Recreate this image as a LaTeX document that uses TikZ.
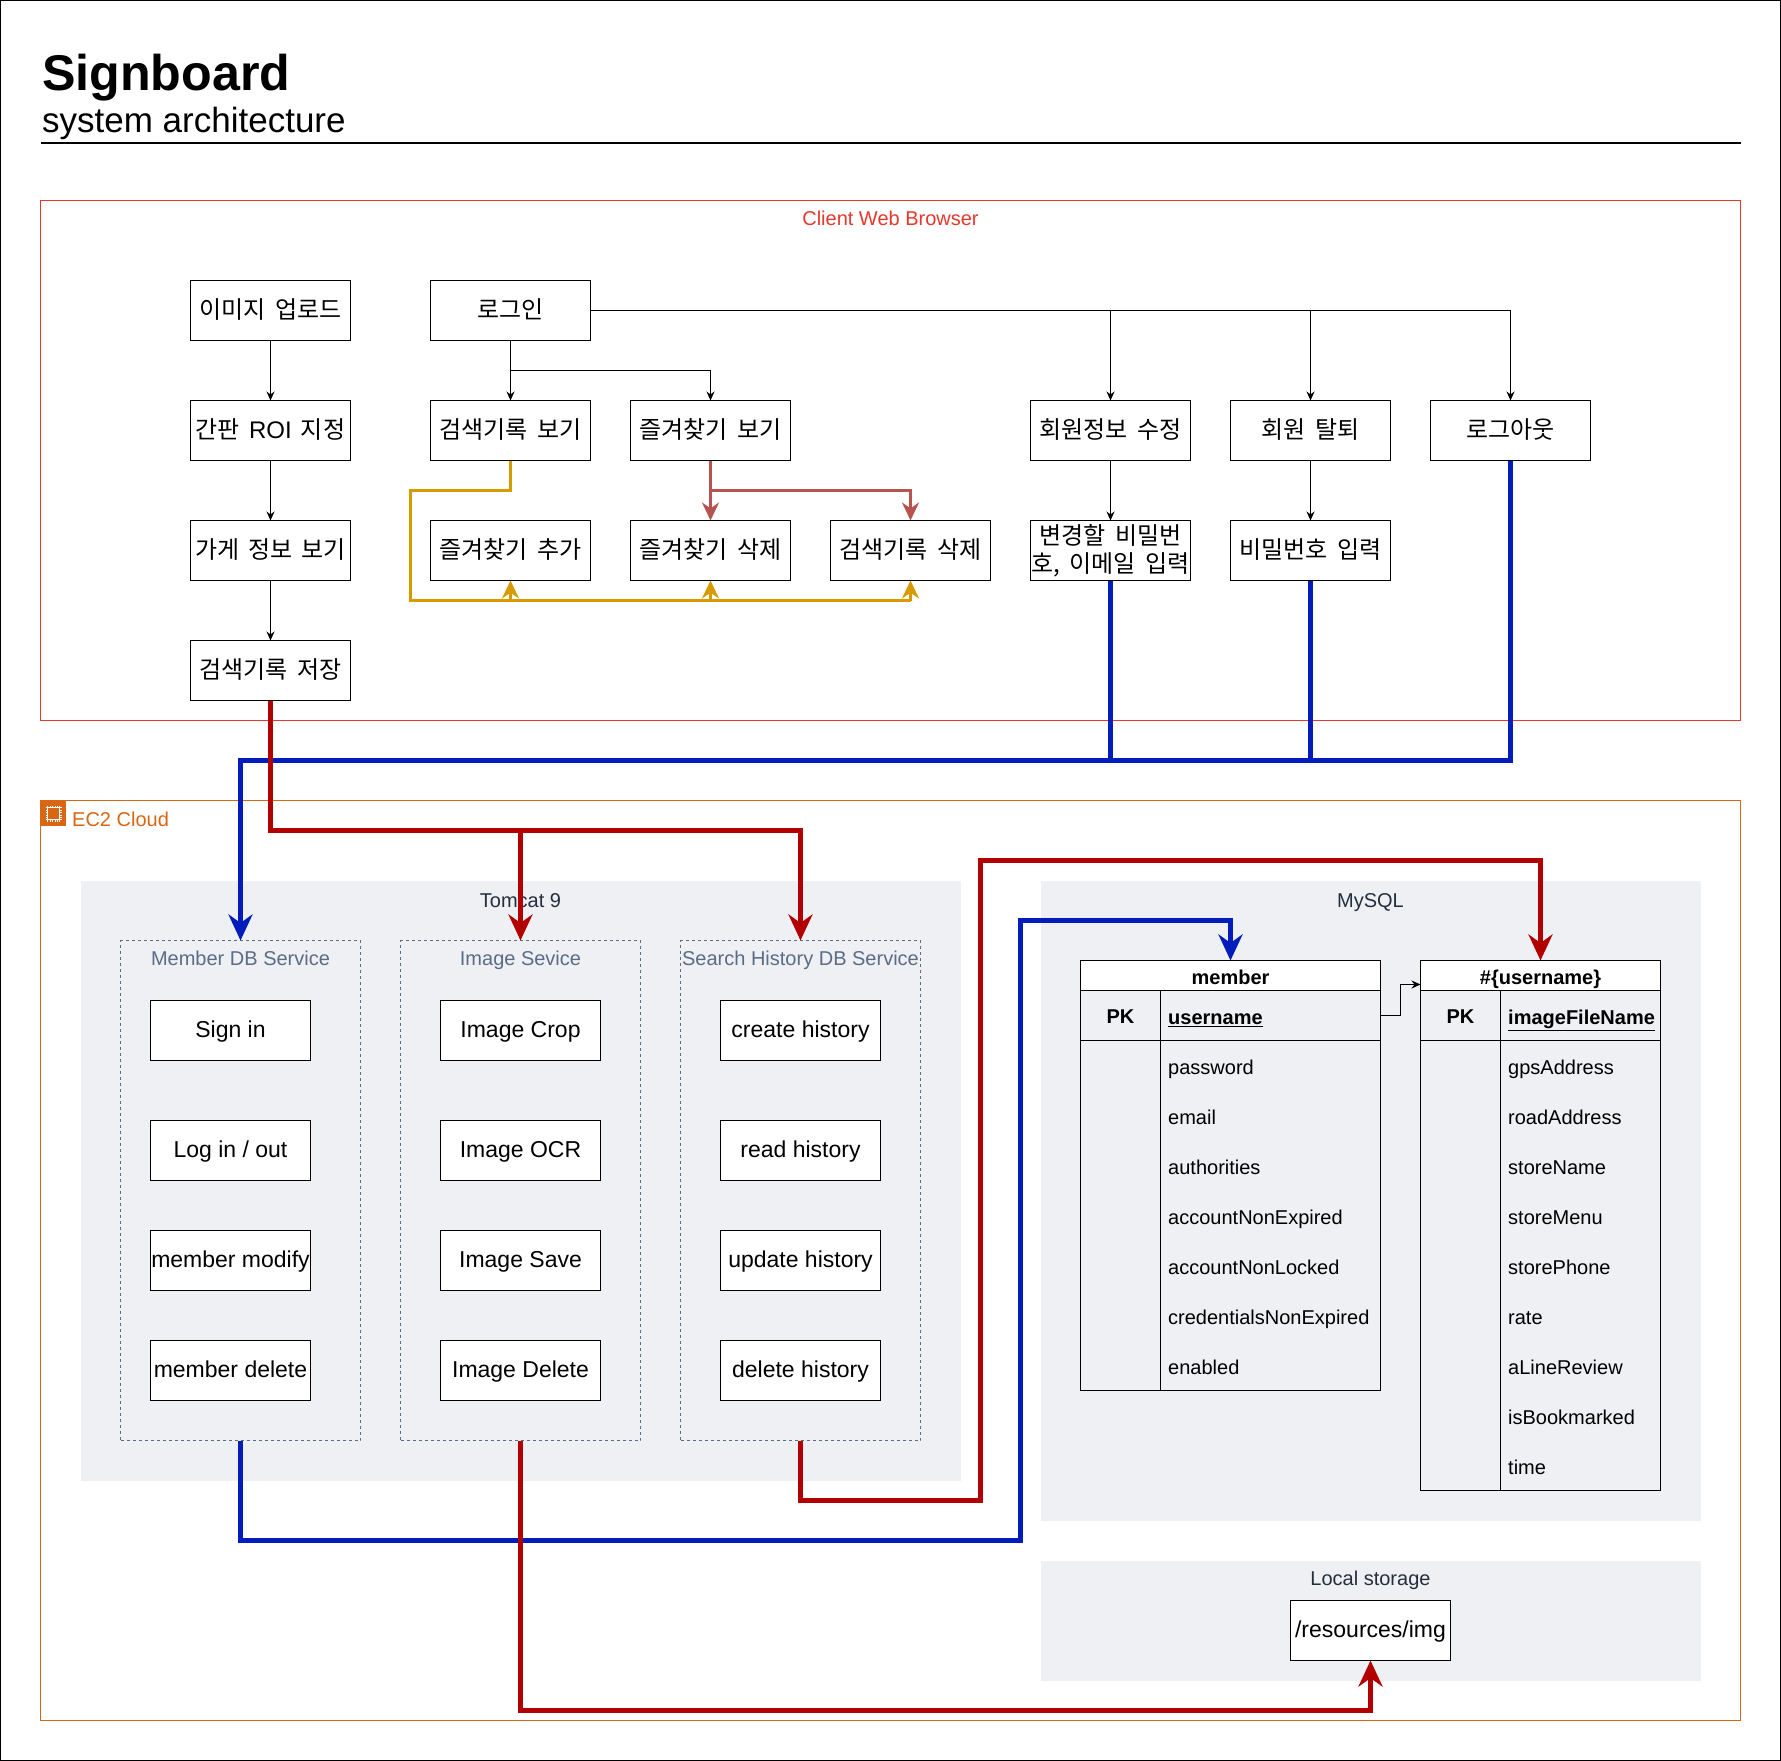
\documentclass[tikz,border=0pt]{standalone}
\usepackage{fontspec}
\setmainfont{Liberation Sans}
\newfontfamily\kr[WordSpace=1.7]{Noto Sans CJK KR}
\usetikzlibrary{arrows.meta}

\definecolor{clientRed}{HTML}{E5382B}
\definecolor{cloudOrange}{HTML}{D86613}
\definecolor{regionGray}{HTML}{EFF0F3}
\definecolor{slateText}{HTML}{5A6C86}
\definecolor{darkText}{HTML}{232F3E}
\definecolor{lineBlue}{HTML}{001DBC}
\definecolor{lineRed}{HTML}{B20000}
\definecolor{lineGold}{HTML}{D79B00}
\definecolor{lineBrown}{HTML}{B85450}

\tikzset{
  boxbase/.style={draw=black, fill=white, line width=1.2pt, minimum width=160pt, minimum height=60pt,
              inner sep=0pt, outer sep=0pt, align=center, text=black},
  box/.style={boxbase, font=\fontsize{23}{27}\selectfont, text height=19pt, text depth=5pt},
  krbox/.style={boxbase, font=\kr\fontsize{24}{28}\selectfont, text height=21pt, text depth=5pt},
  krwrap/.style={boxbase, font=\kr\fontsize{24}{27.5}\selectfont},
  region/.style={fill=regionGray, inner sep=0pt, outer sep=0pt},
  group/.style={draw=slateText, line width=1pt, dash pattern=on 3pt off 3pt, minimum width=240pt,
                minimum height=500pt, inner sep=0pt, outer sep=0pt},
  lbl/.style={inner sep=0pt, font=\fontsize{20}{24}\selectfont, text height=18.5pt, text depth=4pt},
  cell/.style={lbl, anchor=west, text height=22.5pt},
  keycell/.style={lbl, font=\bfseries\fontsize{20}{24}\selectfont, text height=20.5pt},
  tablehead/.style={draw, line width=1.2pt, fill=white, minimum height=30pt, inner sep=0pt, outer sep=0pt,
              font=\bfseries\fontsize{20}{24}\selectfont, text height=22.5pt, text depth=4pt},
  thinlink/.style={line width=1.2pt, -{Stealth[length=9pt,width=8pt]}},
  midlink/.style={line width=3.5pt, -{Stealth[length=18pt,width=17pt]}},
  fatlink/.style={line width=5pt, -{Stealth[length=26pt,width=24pt]}},
  fatplain/.style={line width=5pt}
}

\begin{document}
\begin{tikzpicture}[x=1pt, y=-1pt, shift={(0.5,0.5)}]

\useasboundingbox (-0.5,-0.5) rectangle (1780.5,1760.5);
\draw[line width=2.5pt] (-0.5,-0.5) rectangle (1780.5,1760.5);

\node[anchor=base west, inner sep=0pt, font=\bfseries\fontsize{50.2}{56}\selectfont] (title) at (41.5,90) {Signboard};
\node[anchor=base west, inner sep=0pt, font=\fontsize{35}{40}\selectfont] (subtitle) at (41.5,131.5) {system architecture};
\coordinate (ruleL) at (40.5,142.5);
\coordinate (ruleR) at (1740.5,142.5);
\draw[line width=2pt] (ruleL) -- (ruleR);

% client side
\draw[clientRed, line width=1pt] (40,200) rectangle (1740,720);
\node[lbl, text=clientRed] (clientLabel) at (890,218) {Client Web Browser};

\node[krbox] (upload) at (270,310) {이미지 업로드};
\node[krbox] (roi) at (270,430) {간판 {\rmfamily ROI} 지정};
\node[krbox] (storeInfo) at (270,550) {가게 정보 보기};
\node[krbox] (saveHistory) at (270,670) {검색기록 저장};

\node[krbox] (login) at (510,310) {로그인};
\node[krbox] (viewHistory) at (510,430) {검색기록 보기};
\node[krbox] (viewFav) at (710,430) {즐겨찾기 보기};
\node[krbox] (editMember) at (1110,430) {회원정보 수정};
\node[krbox] (leave) at (1310,430) {회원 탈퇴};
\node[krbox] (logout) at (1510,430) {로그아웃};

\node[krbox] (addFav) at (510,550) {즐겨찾기 추가};
\node[krbox] (delFav) at (710,550) {즐겨찾기 삭제};
\node[krbox] (delHistory) at (910,550) {검색기록 삭제};
\node[krwrap] (editInput) at (1110,550) {변경할 비밀번\\호, 이메일 입력};
\node[krbox] (pwInput) at (1310,550) {비밀번호 입력};

\foreach \i/\j in {upload/roi,roi/storeInfo,storeInfo/saveHistory,login/viewHistory,editMember/editInput,leave/pwInput}{\draw[thinlink] (\i) -- (\j);}
\coordinate (favElbow) at (510,370);
\draw[thinlink] (favElbow) -| (viewFav.north);
\foreach \j in {editMember,leave,logout}{\draw[thinlink] (login.east) -| (\j.north);}

\coordinate (goldTop) at (410,490);
\coordinate (goldBottom) at (410,600);
\draw[line width=3.5pt, lineGold] (viewHistory.south) |- (goldTop) -- (goldBottom) -- (goldBottom -| delHistory.south);
\foreach \j in {addFav,delFav,delHistory}{\draw[midlink, lineGold] (\j.south |- goldBottom) -- (\j.south);}

\coordinate (brownBend) at (710,490);
\draw[midlink, lineBrown] (viewFav.south) -- (delFav.north);
\draw[midlink, lineBrown] (brownBend) -| (delHistory.north);

% cloud side
\draw[cloudOrange, line width=1pt] (40,800) rectangle (1740,1720);
\node[fill=cloudOrange, minimum size=25pt, inner sep=0pt, outer sep=0pt] (ec2Icon) at (52.5,812.5) {};
\draw[white, line width=1.4pt] (47,807) rectangle (59,819);
\foreach \i in {0,2.5,5,7.5,10,12}{
  \draw[white, line width=.6pt] (47+\i,805) -- (47+\i,807);
  \draw[white, line width=.6pt] (47+\i,819) -- (47+\i,821);
  \draw[white, line width=.6pt] (45,807+\i) -- (47,807+\i);
  \draw[white, line width=.6pt] (59,807+\i) -- (61,807+\i);
}
\node[lbl, anchor=west, text=cloudOrange] (ec2Label) at (71.5,819) {EC2 Cloud};

\node[region, minimum width=880pt, minimum height=600pt] (tomcat) at (520,1180) {};
\node[lbl, text=darkText] (tomcatLabel) at (520,900) {Tomcat 9};
\node[region, minimum width=660pt, minimum height=640pt] (mysql) at (1370,1200) {};
\node[lbl, text=darkText] (mysqlLabel) at (1370,900) {MySQL};
\node[region, minimum width=660pt, minimum height=120pt] (storage) at (1370,1620) {};
\node[lbl, text=darkText] (storageLabel) at (1370,1578) {Local storage};

\node[group] (memberSvc) at (240,1190) {};
\node[group] (imageSvc) at (520,1190) {};
\node[group] (searchSvc) at (800,1190) {};
\node[lbl, text=slateText] (memberLabel) at (240,958) {Member DB Service};
\node[lbl, text=slateText] (imageLabel) at (520,958) {Image Sevice};
\node[lbl, text=slateText] (searchLabel) at (800,958) {Search History DB Service};

\node[box] (signIn) at (230,1030) {Sign in};
\node[box] (logInOut) at (230,1150) {Log in / out};
\node[box] (memberModify) at (230,1260) {member modify};
\node[box] (memberDelete) at (230,1370) {member delete};

\node[box] (imageCrop) at (520,1030) {Image Crop};
\node[box] (imageOcr) at (520,1150) {Image OCR};
\node[box] (imageSave) at (520,1260) {Image Save};
\node[box] (imageDelete) at (520,1370) {Image Delete};

\node[box] (createHistory) at (800,1030) {create history};
\node[box] (readHistory) at (800,1150) {read history};
\node[box] (updateHistory) at (800,1260) {update history};
\node[box] (deleteHistory) at (800,1370) {delete history};

\node[box] (imgFolder) at (1370,1630) {/resources/img};

% member table
\node[tablehead, minimum width=300pt] (memberHead) at (1230,975) {member};
\draw[line width=1.2pt] (1080,990) rectangle (1380,1390);
\draw[line width=1.2pt] (1160,990) -- (1160,1390);
\draw[line width=1.2pt] (1080,1040) -- (1380,1040);
\node[keycell] (memberPk) at (1120,1015) {PK};
\node[cell, font=\bfseries\fontsize{20}{24}\selectfont] (memberKey) at (1167.5,1015) {\underline{username}};
\foreach \txt [count=\n] in {password,email,authorities,accountNonExpired,accountNonLocked,credentialsNonExpired,enabled}{
  \node[cell] (memberRow\n) at (1167.5,1015+50*\n) {\txt};
}

% image table
\node[tablehead, minimum width=240pt] (imageHead) at (1540,975) {\#\{username\}};
\draw[line width=1.2pt] (1420,990) rectangle (1660,1490);
\draw[line width=1.2pt] (1500,990) -- (1500,1490);
\draw[line width=1.2pt] (1420,1040) -- (1660,1040);
\node[keycell] (imagePk) at (1460,1015) {PK};
\node[cell, font=\bfseries\fontsize{20}{24}\selectfont] (imageKey) at (1507.5,1015) {\underline{imageFileName}};
\foreach \txt [count=\n] in {gpsAddress,roadAddress,storeName,storeMenu,storePhone,rate,aLineReview,isBookmarked,time}{
  \node[cell] (imageRow\n) at (1507.5,1015+50*\n) {\txt};
}

\coordinate (keyOut) at (1380,1015);
\coordinate (keyBend) at (1400,1015);
\coordinate (keyIn) at (1420,984);
\draw[thinlink] (keyOut) -- (keyBend) |- (keyIn);

% thick links
\coordinate (blueBus) at (240,760);
\draw[fatlink, lineBlue] (logout.south) |- (blueBus) -- (memberSvc.north);
\draw[fatplain, lineBlue] (editInput.south) -- (editInput.south |- blueBus);
\draw[fatplain, lineBlue] (pwInput.south) -- (pwInput.south |- blueBus);

\coordinate (redBus) at (270,830);
\draw[fatlink, lineRed] (saveHistory.south) |- (redBus -| searchSvc.north) -- (searchSvc.north);
\draw[fatlink, lineRed] (imageSvc.north |- redBus) -- (imageSvc.north);

\coordinate (blueDown) at (240,1540);
\coordinate (blueUp) at (1020,920);
\draw[fatlink, lineBlue] (memberSvc.south) |- (blueDown -| blueUp) -- (blueUp) -| (memberHead.north);

\coordinate (redDown) at (800,1500);
\coordinate (redUp) at (980,860);
\draw[fatlink, lineRed] (searchSvc.south) |- (redDown -| redUp) -- (redUp) -| (imageHead.north);

\coordinate (redLow) at (520,1710);
\draw[fatlink, lineRed] (imageSvc.south) |- (redLow -| imgFolder.south) -- (imgFolder.south);

\end{tikzpicture}
\end{document}
